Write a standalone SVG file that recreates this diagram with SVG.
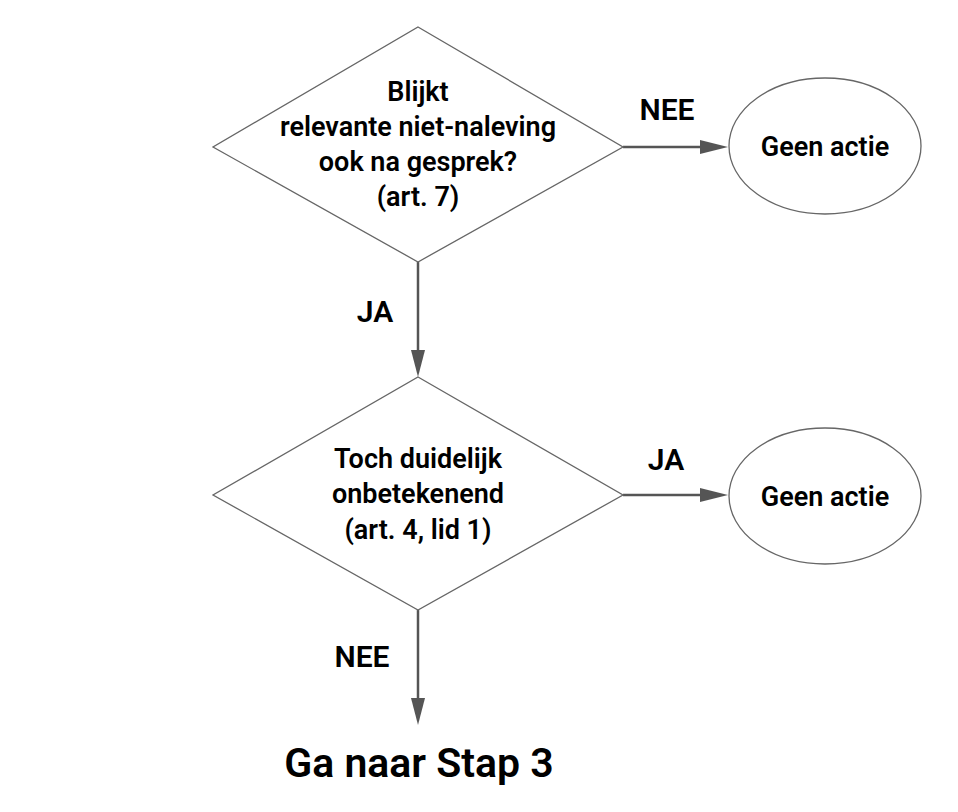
<svg xmlns="http://www.w3.org/2000/svg" width="958" height="812" viewBox="0 0 958 812">
<style>
.shape{fill:#fff;stroke:#666;stroke-width:1.3}
.t{font-family:Roboto,"Liberation Sans",Arial,sans-serif;font-weight:600;fill:#000;text-anchor:middle}
.n{font-size:27px}
.l{font-size:30px}
.big{font-size:41px}
.c{stroke:#555;stroke-width:2.5;fill:none}
.ah{fill:#555}
</style>
<rect width="958" height="812" fill="#fff"/>
<g id="connectors">
<path class="c" d="M623,147 H700"/><path class="ah" d="M700,140 L728,147 L700,154 Z"/>
<path class="c" d="M418,262 V350"/><path class="ah" d="M411,350 L418,377 L425,350 Z"/>
<path class="c" d="M623,495 H700"/><path class="ah" d="M700,488 L728,495 L700,502 Z"/>
<path class="c" d="M418,610 V698"/><path class="ah" d="M411,698 L418,725 L425,698 Z"/>
<text class="t l" x="667" y="120">NEE</text>
<text class="t l" x="375" y="322">JA</text>
<text class="t l" x="666" y="470">JA</text>
<text class="t l" x="362" y="667">NEE</text>
</g>
<g id="d1">
<polygon class="shape" points="418,27 623,147 418,262 213,147"/>
<text class="t n" x="418" y="101">Blijkt</text>
<text class="t n" x="418" y="136">relevante niet-naleving</text>
<text class="t n" x="418" y="171">ook na gesprek?</text>
<text class="t n" x="418" y="206">(art. 7)</text>
</g>
<g id="e1">
<ellipse class="shape" cx="825" cy="146" rx="96" ry="68"/>
<text class="t n" x="825" y="156">Geen actie</text>
</g>
<g id="d2">
<polygon class="shape" points="418,377 623,495 418,610 213,495"/>
<text class="t n" x="418" y="468">Toch duidelijk</text>
<text class="t n" x="418" y="503">onbetekenend</text>
<text class="t n" x="418" y="539">(art. 4, lid 1)</text>
</g>
<g id="e2">
<ellipse class="shape" cx="825" cy="496" rx="96" ry="68"/>
<text class="t n" x="825" y="506">Geen actie</text>
</g>
<g id="end">
<text class="t big" x="419" y="777">Ga naar Stap 3</text>
</g>
</svg>
